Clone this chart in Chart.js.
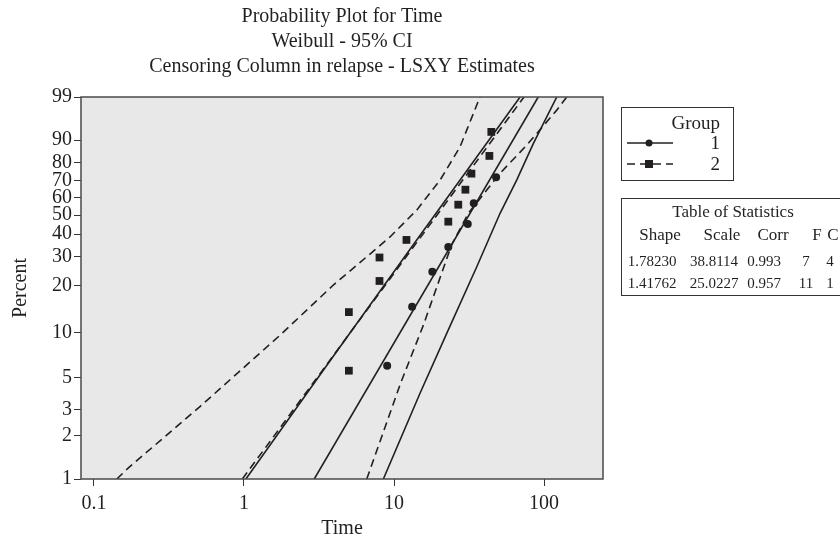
<!DOCTYPE html>
<html>
<head>
<meta charset="utf-8">
<script src="https://cdn.jsdelivr.net/npm/chart.js@4"></script>
<style>
  html, body { margin: 0; padding: 0; background: #fff; }
  #wrap { width: 840px; height: 543px; }
</style>
</head>
<body>
<div id="wrap"><canvas id="probChart" width="840" height="543"></canvas></div>
<script>
// tick labels
const percentTicks = [1, 2, 3, 5, 10, 20, 30, 40, 50, 60, 70, 80, 90, 99];
const timeTicks = [0.1, 1, 10, 100];

// plotted points (time, percent)
const group1Time = [9.0, 13.2, 18.0, 23.0, 31.0, 34.0, 47.9];
const group1Pct = [6.0, 14.7, 24.4, 34.0, 45.1, 56.7, 71.9];
const group2Time = [5.0, 5.0, 8.0, 8.0, 12.1, 23.0, 26.8, 29.9, 32.8, 43.2, 44.5];
const group2Pct = [5.55, 13.6, 21.4, 29.6, 37.2, 46.4, 55.9, 64.7, 74.0, 83.3, 92.8];

// fitted lines (end points)
const fit1Time = [2.94, 91.4];
const fit1Pct = [1, 99];
const fit2Time = [0.975, 73.5];
const fit2Pct = [1, 99];

// 95% CI bands
const ci1LeftTime = [1.03, 3.80, 13.4, 69.2];
const ci1LeftPct = [1, 6.6, 34.9, 99];
const ci1RightTime = [8.49, 14.9, 23.0, 35.6, 50.9, 65.8, 84.9, 121.5];
const ci1RightPct = [1, 3.9, 10.4, 26.1, 51.0, 70.4, 88.8, 99];
const ci2LeftTime = [0.142, 0.169, 0.509, 1.74, 3.94, 6.0, 9.4, 14.2, 20.3, 27.5, 37.4];
const ci2LeftPct = [1, 1.19, 3.16, 9.6, 20.2, 27.9, 38.6, 52.9, 70.4, 87.3, 99];
const ci2RightTime = [6.58, 11.0, 15.7, 24.2, 31.3, 41.5, 50.9, 76.7, 121.5, 141.6];
const ci2RightPct = [1, 4.5, 11.2, 34.9, 51.0, 64.5, 74.2, 88.1, 97.6, 99];

const statsHeader = ['Shape', 'Scale', 'Corr', 'F', 'C'];
const statsRows = [
  ['1.78230', '38.8114', '0.993', '7', '4'],
  ['1.41762', '25.0227', '0.957', '11', '1']
];

const INK = '#231f20';
const SERIF = '"Liberation Serif", "DejaVu Serif", serif';

// weibull probability scale: ln(-ln(1-p))
function wb(pct) {
  return Math.log(-Math.log(1 - pct / 100));
}
function pts(times, pcts) {
  return times.map((t, i) => ({ x: t, y: wb(pcts[i]) }));
}

function lineSet(times, pcts, dashed) {
  return {
    data: pts(times, pcts),
    showLine: true,
    borderColor: INK,
    borderWidth: 1.6,
    borderDash: dashed ? [8, 5] : [],
    pointRadius: 0,
    fill: false,
    tension: 0
  };
}

const plotBackground = {
  id: 'plotBackground',
  beforeDraw(chart) {
    const { ctx, chartArea: a } = chart;
    ctx.save();
    ctx.fillStyle = '#e8e8e8';
    ctx.fillRect(a.left, a.top, a.right - a.left, a.bottom - a.top);
    ctx.restore();
  },
  afterDraw(chart) {
    const { ctx, chartArea: a } = chart;
    ctx.save();
    ctx.strokeStyle = '#4a4a4a';
    ctx.lineWidth = 1.5;
    ctx.strokeRect(a.left, a.top, a.right - a.left, a.bottom - a.top);
    ctx.restore();
  }
};

const sideText = {
  id: 'sideText',
  afterDraw(chart) {
    const { ctx, chartArea: a } = chart;
    const cx = (a.left + a.right) / 2;
    ctx.save();
    ctx.fillStyle = INK;
    ctx.textBaseline = 'middle';
    ctx.textAlign = 'center';
    ctx.font = '20px ' + SERIF;
    ctx.fillText('Probability Plot for Time', cx, 17);
    ctx.fillText('Weibull - 95% CI', cx, 42);
    ctx.fillText('Censoring Column in relapse - LSXY Estimates', cx, 67);

    // legend box
    ctx.strokeStyle = '#333';
    ctx.lineWidth = 1;
    ctx.strokeRect(621.5, 107.5, 112, 73);
    ctx.font = '19px ' + SERIF;
    ctx.textAlign = 'right';
    ctx.fillText('Group', 720, 124);
    ctx.fillText('1', 720, 144);
    ctx.fillText('2', 720, 165);
    ctx.strokeStyle = INK;
    ctx.lineWidth = 1.6;
    ctx.beginPath(); ctx.moveTo(627, 143); ctx.lineTo(673, 143); ctx.stroke();
    ctx.beginPath(); ctx.arc(649, 143, 3.5, 0, Math.PI * 2); ctx.fill();
    ctx.setLineDash([8, 5]);
    ctx.beginPath(); ctx.moveTo(627, 164); ctx.lineTo(673, 164); ctx.stroke();
    ctx.setLineDash([]);
    ctx.fillRect(645, 160, 8, 8);

    // table of statistics
    ctx.strokeStyle = '#333';
    ctx.lineWidth = 1;
    ctx.strokeRect(621.5, 198.5, 240, 97);
    ctx.textAlign = 'center';
    ctx.font = '17px ' + SERIF;
    ctx.fillText('Table of Statistics', 733, 213);
    const headX = [660, 722, 773, 817, 833];
    statsHeader.forEach((h, i) => ctx.fillText(h, headX[i], 236));
    ctx.font = '15px ' + SERIF;
    const rowX = [652, 714, 764, 806, 830];
    statsRows.forEach((row, r) => {
      row.forEach((v, i) => ctx.fillText(v, rowX[i], 262 + r * 22));
    });
    ctx.restore();
  }
};

const ctx = document.getElementById('probChart').getContext('2d');

const data = {
  datasets: [
    lineSet(ci2LeftTime, ci2LeftPct, true),
    lineSet(ci2RightTime, ci2RightPct, true),
    lineSet(fit2Time, fit2Pct, true),
    lineSet(ci1LeftTime, ci1LeftPct, false),
    lineSet(ci1RightTime, ci1RightPct, false),
    lineSet(fit1Time, fit1Pct, false),
    {
      data: pts(group1Time, group1Pct),
      showLine: false,
      pointStyle: 'circle',
      pointRadius: 4,
      backgroundColor: INK,
      borderColor: INK,
      borderWidth: 0
    },
    {
      data: pts(group2Time, group2Pct),
      showLine: false,
      pointStyle: 'rect',
      pointRadius: 5.5,
      backgroundColor: INK,
      borderColor: INK,
      borderWidth: 0
    }
  ]
};

const config = {
  type: 'scatter',
  data: data,
  options: {
    responsive: false,
    devicePixelRatio: 1,
    animation: false,
    layout: { padding: { top: 97, right: 237, left: 0, bottom: 0 } },
    plugins: {
      legend: { display: false },
      tooltip: { enabled: false },
      title: { display: false }
    },
    scales: {
      x: {
        type: 'logarithmic',
        min: 0.082,
        max: 247,
        border: { display: false },
        grid: { drawOnChartArea: false, drawTicks: true, tickLength: 7, color: '#333', lineWidth: 1 },
        afterBuildTicks: (axis) => { axis.ticks = timeTicks.map(v => ({ value: v })); },
        afterFit: (axis) => { axis.height = 64; },
        ticks: {
          autoSkip: false,
          maxRotation: 0,
          padding: 6,
          color: INK,
          font: { family: SERIF, size: 20 },
          callback: (v) => String(v)
        },
        title: {
          display: true,
          text: 'Time',
          color: INK,
          font: { family: SERIF, size: 20 },
          padding: { top: 0, bottom: 2 }
        }
      },
      y: {
        type: 'linear',
        min: wb(1),
        max: wb(99),
        border: { display: false },
        grid: { drawOnChartArea: false, drawTicks: true, tickLength: 7, color: '#333', lineWidth: 1 },
        afterBuildTicks: (axis) => { axis.ticks = percentTicks.map(p => ({ value: wb(p) })); },
        afterFit: (axis) => { axis.width = 81; },
        ticks: {
          autoSkip: false,
          padding: 2,
          color: INK,
          font: { family: SERIF, size: 20 },
          callback: (v, i) => String(percentTicks[i])
        },
        title: {
          display: true,
          text: 'Percent',
          color: INK,
          font: { family: SERIF, size: 20 },
          padding: { top: 9, bottom: 0 }
        }
      }
    }
  },
  plugins: [plotBackground, sideText]
};

const probChart = new Chart(ctx, config);
</script>
</body>
</html>
